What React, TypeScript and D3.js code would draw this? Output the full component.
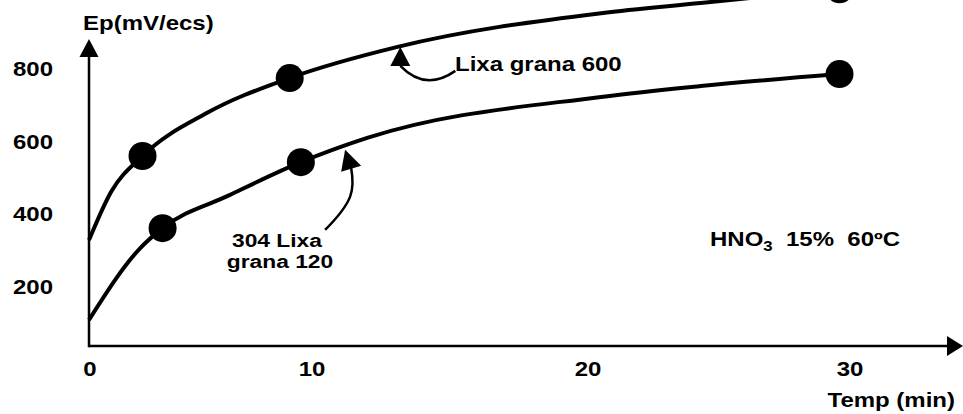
import React from "react";
import * as d3 from "d3";

// values
const xTicks = [0, 10, 20, 30];
const yTicks = [200, 400, 600, 800];

// traced fit curves (time in min, potential in mV)
const curve600T = [0, 1.0, 2.4, 5.3, 9.0, 13.1, 20.5, 24.3, 29.6];
const curve600V = [328, 462, 560, 679, 775, 861, 954, 982, 1021];
const curve120T = [0, 2.3, 3.3, 6.3, 9.5, 12.0, 20.5, 24.3, 29.6];
const curve120V = [108, 306, 361, 452, 543, 610, 723, 753, 786];

// measured points
const points600T = [2.4, 9.0, 29.6];
const points600V = [560, 775, 1020];
const points120T = [3.3, 9.5, 29.6];
const points120V = [361, 543, 786];

const W = 963, H = 414;
const axisY = 346;
const FONT = "'Liberation Sans', Arial, sans-serif";
const SX = 1.2; // the picture's text is stretched wide

// the hand drawn axis isn't evenly spaced
const x = d3.scaleLinear().domain([0, 10, 20, 30]).range([89, 312, 588, 850]);
const y = d3.scaleLinear().domain([0, 800]).range([359, 69]);

const line = d3.line<[number, number]>()
  .x(d => x(d[0]))
  .y(d => y(d[1]))
  .curve(d3.curveMonotoneX);

const zip = (a: number[], b: number[]) => a.map((v, i) => [v, b[i]] as [number, number]);

function Label({ px, py, anchor = "start", size = 20, children }: any) {
  return (
    <text
      transform={`translate(${px},${py}) scale(${SX},1)`}
      textAnchor={anchor}
      fontFamily={FONT}
      fontWeight="bold"
      fontSize={size}
      fill="#000"
      style={{ whiteSpace: "pre" }}
    >
      {children}
    </text>
  );
}

export default function App() {
  const x0 = x(0);
  // annotation arrow tips, on the curves
  const tip600: [number, number] = [x(13.2), y(861)];
  const tip120: [number, number] = [x(11.2), y(577)];

  return (
    <svg width={W} height={H} style={{ position: "absolute", left: 0, top: 0, background: "#fff" }}>
      {/* axes */}
      <line x1={x0} y1={axisY} x2={947} y2={axisY} stroke="#000" strokeWidth={2.5} />
      <path d={`M963,${axisY} L947,${axisY - 10} L947,${axisY + 10} Z`} fill="#000" />
      <line x1={x0} y1={axisY + 1.2} x2={x0} y2={56} stroke="#000" strokeWidth={2.5} />
      <path d={`M${x0},39 L${x0 - 9.5},57 L${x0 + 9.5},57 Z`} fill="#000" />

      {yTicks.map(v => (
        <Label key={v} px={13} py={y(v) + 7}>{v}</Label>
      ))}
      {xTicks.map(v => (
        <Label key={v} px={v === 0 ? 90 : x(v)} py={376} anchor="middle">{v}</Label>
      ))}

      <Label px={83} py={30}>Ep(mV/ecs)</Label>
      <Label px={955} py={407} anchor="end">Temp (min)</Label>

      {/* curves */}
      <path d={line(zip(curve600T, curve600V)) || ""} fill="none" stroke="#000" strokeWidth={4} />
      <path d={line(zip(curve120T, curve120V)) || ""} fill="none" stroke="#000" strokeWidth={4} />

      {zip(points600T, points600V).map((d, i) => (
        <circle key={"a" + i} cx={x(d[0])} cy={y(d[1])} r={14} fill="#000" />
      ))}
      {zip(points120T, points120V).map((d, i) => (
        <circle key={"b" + i} cx={x(d[0])} cy={y(d[1])} r={14} fill="#000" />
      ))}

      {/* Lixa grana 600 annotation */}
      <path
        d={`M${tip600[0]},${tip600[1]} L${tip600[0] - 10},${tip600[1] + 19} L${tip600[0] + 10},${tip600[1] + 19} Z`}
        fill="#000"
      />
      <path
        d={`M${tip600[0] + 55},${tip600[1] + 24} Q${tip600[0] + 25},${tip600[1] + 45} ${tip600[0]},${tip600[1] + 19}`}
        fill="none"
        stroke="#000"
        strokeWidth={2.5}
      />
      <Label px={455} py={71}>Lixa grana 600</Label>

      {/* 304 Lixa grana 120 annotation */}
      <path
        d={`M${tip120[0]},${tip120[1]} L${tip120[0] - 4},${tip120[1] + 22} L${tip120[0] + 16},${tip120[1] + 16} Z`}
        fill="#000"
      />
      <path
        d={`M${tip120[0] + 6},${tip120[1] + 18} C${tip120[0] + 10},${tip120[1] + 40} ${tip120[0] + 8},${tip120[1] + 52} ${tip120[0] - 20},${tip120[1] + 80}`}
        fill="none"
        stroke="#000"
        strokeWidth={2.5}
      />
      <Label px={277} py={247} anchor="middle" size={19}>304 Lixa</Label>
      <Label px={280} py={268} anchor="middle" size={19}>grana 120</Label>

      {/* conditions */}
      <text
        transform={`translate(710,246) scale(${SX},1)`}
        fontFamily={FONT}
        fontWeight="bold"
        fontSize={20}
        style={{ whiteSpace: "pre" }}
      >
        HNO
        <tspan fontSize={14} dy={5}>3</tspan>
        <tspan dy={-5}>{"  15%  60ºC"}</tspan>
      </text>
    </svg>
  );
}
